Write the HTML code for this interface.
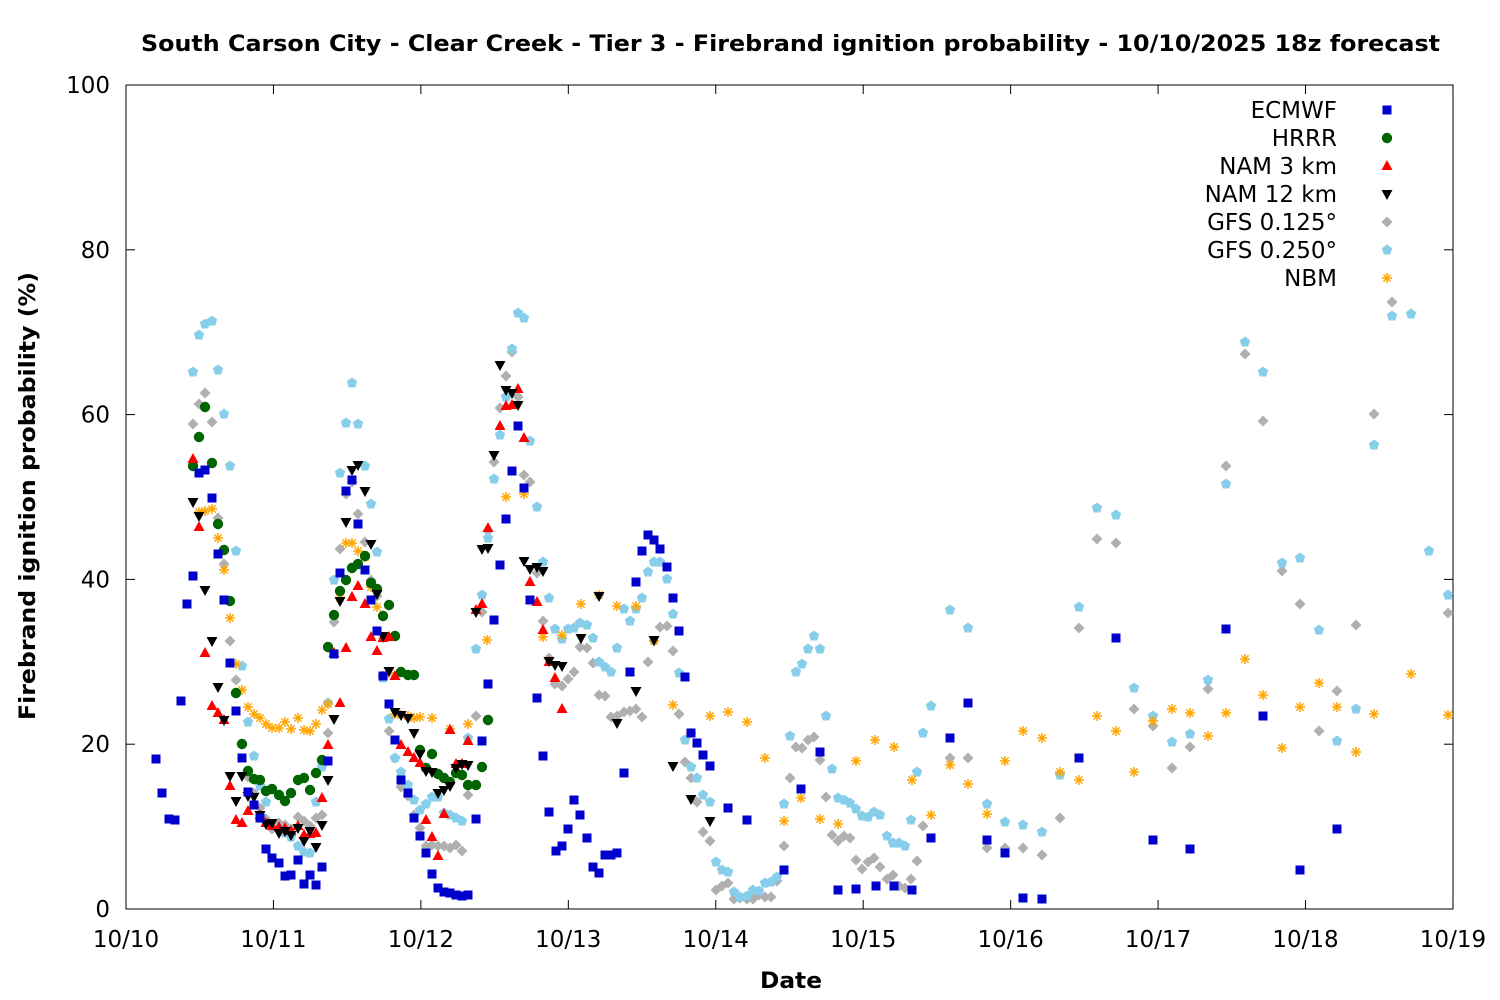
<!DOCTYPE html>
<html><head><meta charset="utf-8"><style>
html,body{margin:0;padding:0;background:#fff;}
svg{display:block;font-family:"DejaVu Sans","Liberation Sans",sans-serif;}
</style></head><body>
<svg id="s" width="1500" height="1000" viewBox="0 0 1500 1000" xmlns="http://www.w3.org/2000/svg">
<defs>
<rect id="mE" x="-4.5" y="-4.5" width="9" height="9" fill="#0000cc"/>
<circle id="mH" r="5.2" fill="#006400"/>
<polygon id="mN3" points="0,-6 5.5,4 -5.5,4" fill="#ff0000"/>
<polygon id="mN12" points="0,6 5.5,-4 -5.5,-4" fill="#000"/>
<polygon id="mG1" points="0,-5.5 5.5,0 0,5.5 -5.5,0" fill="#b0b0b0"/>
<polygon id="mG2" points="0,-5.5 5.2,-1.7 3.2,4.5 -3.2,4.5 -5.2,-1.7" fill="#87ceeb"/>
<g id="mB" stroke="#ffa500" stroke-width="1.5"><line x1="-5" y1="0" x2="5" y2="0"/><line x1="0" y1="-5" x2="0" y2="5"/><line x1="-3.6" y1="-3.6" x2="3.6" y2="3.6"/><line x1="-3.6" y1="3.6" x2="3.6" y2="-3.6"/></g>
</defs>
<text x="141" y="51" font-size="22" font-weight="bold" textLength="1299" lengthAdjust="spacingAndGlyphs">South Carson City - Clear Creek - Tier 3 - Firebrand ignition probability - 10/10/2025 18z forecast</text>
<rect x="126" y="85" width="1327" height="824" fill="none" stroke="#000" stroke-width="1"/>
<g id="ticks" stroke="#000" stroke-width="1"></g>
<g id="labels" font-size="23"></g>
<text x="760" y="988" font-size="22" font-weight="bold" textLength="62" lengthAdjust="spacingAndGlyphs">Date</text>
<text transform="translate(35,720) rotate(-90)" font-size="22" font-weight="bold" textLength="448" lengthAdjust="spacingAndGlyphs">Firebrand ignition probability (%)</text>
<g id="pts"></g>
<g font-size="23" text-anchor="end">
<text x="1337" y="118">ECMWF</text>
<text x="1337" y="146">HRRR</text>
<text x="1337" y="174">NAM 3 km</text>
<text x="1337" y="202">NAM 12 km</text>
<text x="1337" y="230">GFS 0.125°</text>
<text x="1337" y="258">GFS 0.250°</text>
<text x="1337" y="286">NBM</text>
</g>
<use href="#mE" x="1387" y="110"/>
<use href="#mH" x="1387" y="138"/>
<use href="#mN3" x="1387" y="166"/>
<use href="#mN12" x="1387" y="194"/>
<use href="#mG1" x="1387" y="222"/>
<use href="#mG2" x="1387" y="250"/>
<use href="#mB" x="1387" y="278"/>
</svg>
<script>
var NS="http://www.w3.org/2000/svg";
var tk=document.getElementById("ticks"),lb=document.getElementById("labels");
function el(p,n,a,t){var e=document.createElementNS(NS,n);for(var k in a)e.setAttribute(k,a[k]);if(t!==undefined)e.textContent=t;p.appendChild(e);return e;}
for(var i=0;i<=5;i++){var y=909-i*164.8;
 el(tk,"line",{x1:126,y1:y,x2:135,y2:y});el(tk,"line",{x1:1453,y1:y,x2:1444,y2:y});
 el(lb,"text",{x:110,y:y+8,"text-anchor":"end"},String(i*20));}
var d=["10/10","10/11","10/12","10/13","10/14","10/15","10/16","10/17","10/18","10/19"];
for(var i=0;i<10;i++){var x=126+i*147.44;
 el(tk,"line",{x1:x,y1:909,x2:x,y2:900});el(tk,"line",{x1:x,y1:85,x2:x,y2:94});
 el(lb,"text",{x:x,y:947,"text-anchor":"middle"},d[i]);}
var S={
mG1:[193,424,199,404,205,393,212,422,218,518,224,564,230,641,236,680,242,744,248,777,254,793,260,808,266,819,272,829,279,823,285,825,291,829,298,817,304,821,310,826,316,818,322,815,328,733,334,622,340,549,346,494,352,482,358,514,365,542,371,580,377,596,383,676,389,731,395,758,401,787,408,796,414,815,420,828,426,846,432,845,438,846,444,846,450,848,456,845,462,851,468,795,476,716,482,612,488,531,494,462,500,408,506,376,512,352,518,397,524,475,530,482,537,573,543,621,549,658,555,684,562,686,568,679,574,672,580,647,587,648,593,663,599,695,605,696,611,717,617,716,624,712,630,711,636,709,642,717,648,662,654,641,660,627,667,626,673,651,679,714,685,762,691,778,697,802,703,832,710,841,716,890,722,886,728,883,734,899,740,898,747,899,753,899,759,895,765,897,771,897,777,881,784,846,790,778,796,747,802,748,808,740,814,737,820,760,826,797,832,835,838,841,844,836,850,838,856,860,862,869,868,862,874,858,880,867,887,879,893,875,899,886,905,888,911,879,917,861,923,826,950,758,968,758,987,848,1005,848,1023,848,1042,855,1060,818,1079,628,1097,539,1116,543,1134,709,1153,726,1172,768,1190,747,1208,689,1226,466,1245,354,1263,421,1282,571,1300,604,1319,731,1337,691,1356,625,1374,414,1392,302,1448,613],
mG2:[193,372,199,335,205,324,212,321,218,370,224,414,230,466,236,551,242,666,248,722,254,756,260,786,266,802,272,826,279,827,285,833,291,837,298,846,304,852,310,853,316,802,322,767,328,703,334,580,340,473,346,423,352,383,358,424,365,466,371,504,377,552,383,678,389,719,395,758,401,772,408,785,414,800,420,810,426,804,432,797,438,797,444,813,450,815,456,818,462,821,468,738,476,649,482,595,488,538,494,479,500,435,506,397,512,349,518,313,524,318,530,441,537,507,543,562,549,598,555,629,562,639,568,629,574,628,580,623,587,625,593,638,599,662,605,667,611,672,617,648,624,609,630,621,636,609,642,598,648,572,654,562,660,562,667,579,673,614,679,673,685,740,691,767,697,778,703,795,710,802,716,862,722,870,728,872,734,892,740,897,747,896,753,890,759,891,765,883,771,882,777,877,784,804,790,736,796,672,802,664,808,649,814,636,820,649,826,716,832,769,838,798,844,800,850,803,856,809,862,816,868,817,874,812,880,815,887,836,893,843,899,843,905,846,911,820,917,772,923,733,931,706,950,610,968,628,987,804,1005,822,1023,825,1042,832,1060,775,1079,607,1097,508,1116,515,1134,688,1153,716,1172,742,1190,734,1208,680,1226,484,1245,342,1263,372,1282,563,1300,558,1319,630,1337,741,1356,709,1374,445,1392,316,1411,314,1429,551,1448,595],
mB:[199,512,205,511,212,509,218,538,224,570,230,618,236,664,242,690,248,707,254,714,260,718,266,724,272,728,279,728,285,722,291,729,298,718,304,730,310,731,316,724,322,710,328,704,334,653,340,598,346,543,352,543,358,551,365,557,371,587,377,607,383,638,389,673,395,714,401,715,408,716,414,718,420,717,432,718,450,729,468,724,487,640,506,497,524,494,543,637,562,635,581,604,599,595,617,606,636,606,654,641,673,705,691,733,710,716,728,712,747,722,765,758,784,821,801,798,820,819,838,824,856,761,875,740,894,747,912,780,931,815,950,765,968,784,987,814,1005,761,1023,731,1042,738,1060,772,1079,780,1097,716,1116,731,1134,772,1153,721,1172,709,1190,713,1208,736,1226,713,1245,659,1263,695,1282,748,1300,707,1319,683,1337,707,1356,752,1374,714,1411,674,1448,715],
mH:[193,466,199,437,205,407,212,463,218,524,224,550,230,601,236,693,242,744,248,771,254,779,260,780,266,791,272,789,279,795,285,801,291,793,298,780,304,778,310,790,316,773,322,760,328,647,334,615,340,591,346,580,352,568,358,564,365,556,371,583,377,589,383,616,389,605,395,636,401,672,408,675,414,675,420,750,426,768,432,754,438,774,444,778,450,782,456,773,462,775,468,785,476,785,482,767,488,720],
mN3:[193,459,199,527,205,653,212,706,218,713,224,720,230,786,236,820,242,823,248,811,254,804,260,815,266,823,272,826,279,827,285,828,291,831,298,826,304,835,310,834,316,833,322,798,328,745,334,653,340,703,346,648,352,597,358,586,365,604,371,637,377,651,383,638,389,637,395,676,401,745,408,752,414,758,420,763,426,820,432,837,438,856,444,814,450,730,456,764,462,764,468,741,476,610,482,604,488,528,500,426,506,406,512,405,518,389,524,438,530,582,537,602,543,630,549,662,555,678,562,709],
mN12:[193,502,199,516,205,590,212,641,218,687,224,720,230,776,236,801,242,776,248,796,254,797,260,815,266,824,272,823,279,833,285,831,291,835,298,828,304,841,310,831,316,847,322,825,328,780,334,719,340,601,346,522,352,470,358,465,365,491,371,544,377,594,383,636,389,671,395,712,401,715,408,718,414,733,420,754,426,771,432,772,438,793,444,790,450,786,456,768,462,764,468,765,476,612,482,549,488,548,494,455,500,365,506,390,512,393,518,405,524,561,530,569,537,567,543,571,549,661,555,665,562,666,581,638,599,596,617,723,636,691,654,640,673,766,691,799,710,821],
mE:[156,759,162,793,169,819,175,820,181,701,187,604,193,576,199,473,205,470,212,498,218,554,224,600,230,663,236,711,242,758,248,792,254,805,260,818,266,849,272,858,279,863,285,876,291,875,298,860,304,884,310,875,316,885,322,867,328,761,334,654,340,573,346,491,352,480,358,524,365,570,371,600,377,631,383,676,389,704,395,740,401,780,408,793,414,818,420,836,426,853,432,874,438,888,444,892,450,893,456,895,462,896,468,895,476,819,482,741,488,684,494,620,500,565,506,519,512,471,518,426,524,488,530,600,537,698,543,756,549,812,556,851,562,846,568,829,574,800,580,815,587,838,593,867,599,873,605,855,611,855,617,853,624,773,630,672,636,582,642,551,648,535,654,540,660,549,667,567,673,598,679,631,685,677,691,733,697,743,703,755,710,766,728,808,747,820,784,870,801,789,820,752,838,890,856,889,876,886,894,886,912,890,931,838,950,738,968,703,987,840,1005,853,1023,898,1042,899,1079,758,1116,638,1153,840,1190,849,1226,629,1263,716,1300,870,1337,829]
};
var g=document.getElementById("pts");
["mG1","mG2","mB","mH","mN3","mN12","mE"].forEach(function(k){var a=S[k];for(var i=0;i<a.length;i+=2){el(g,"use",{href:"#"+k,x:a[i],y:a[i+1]});}});
</script>
</body></html>
